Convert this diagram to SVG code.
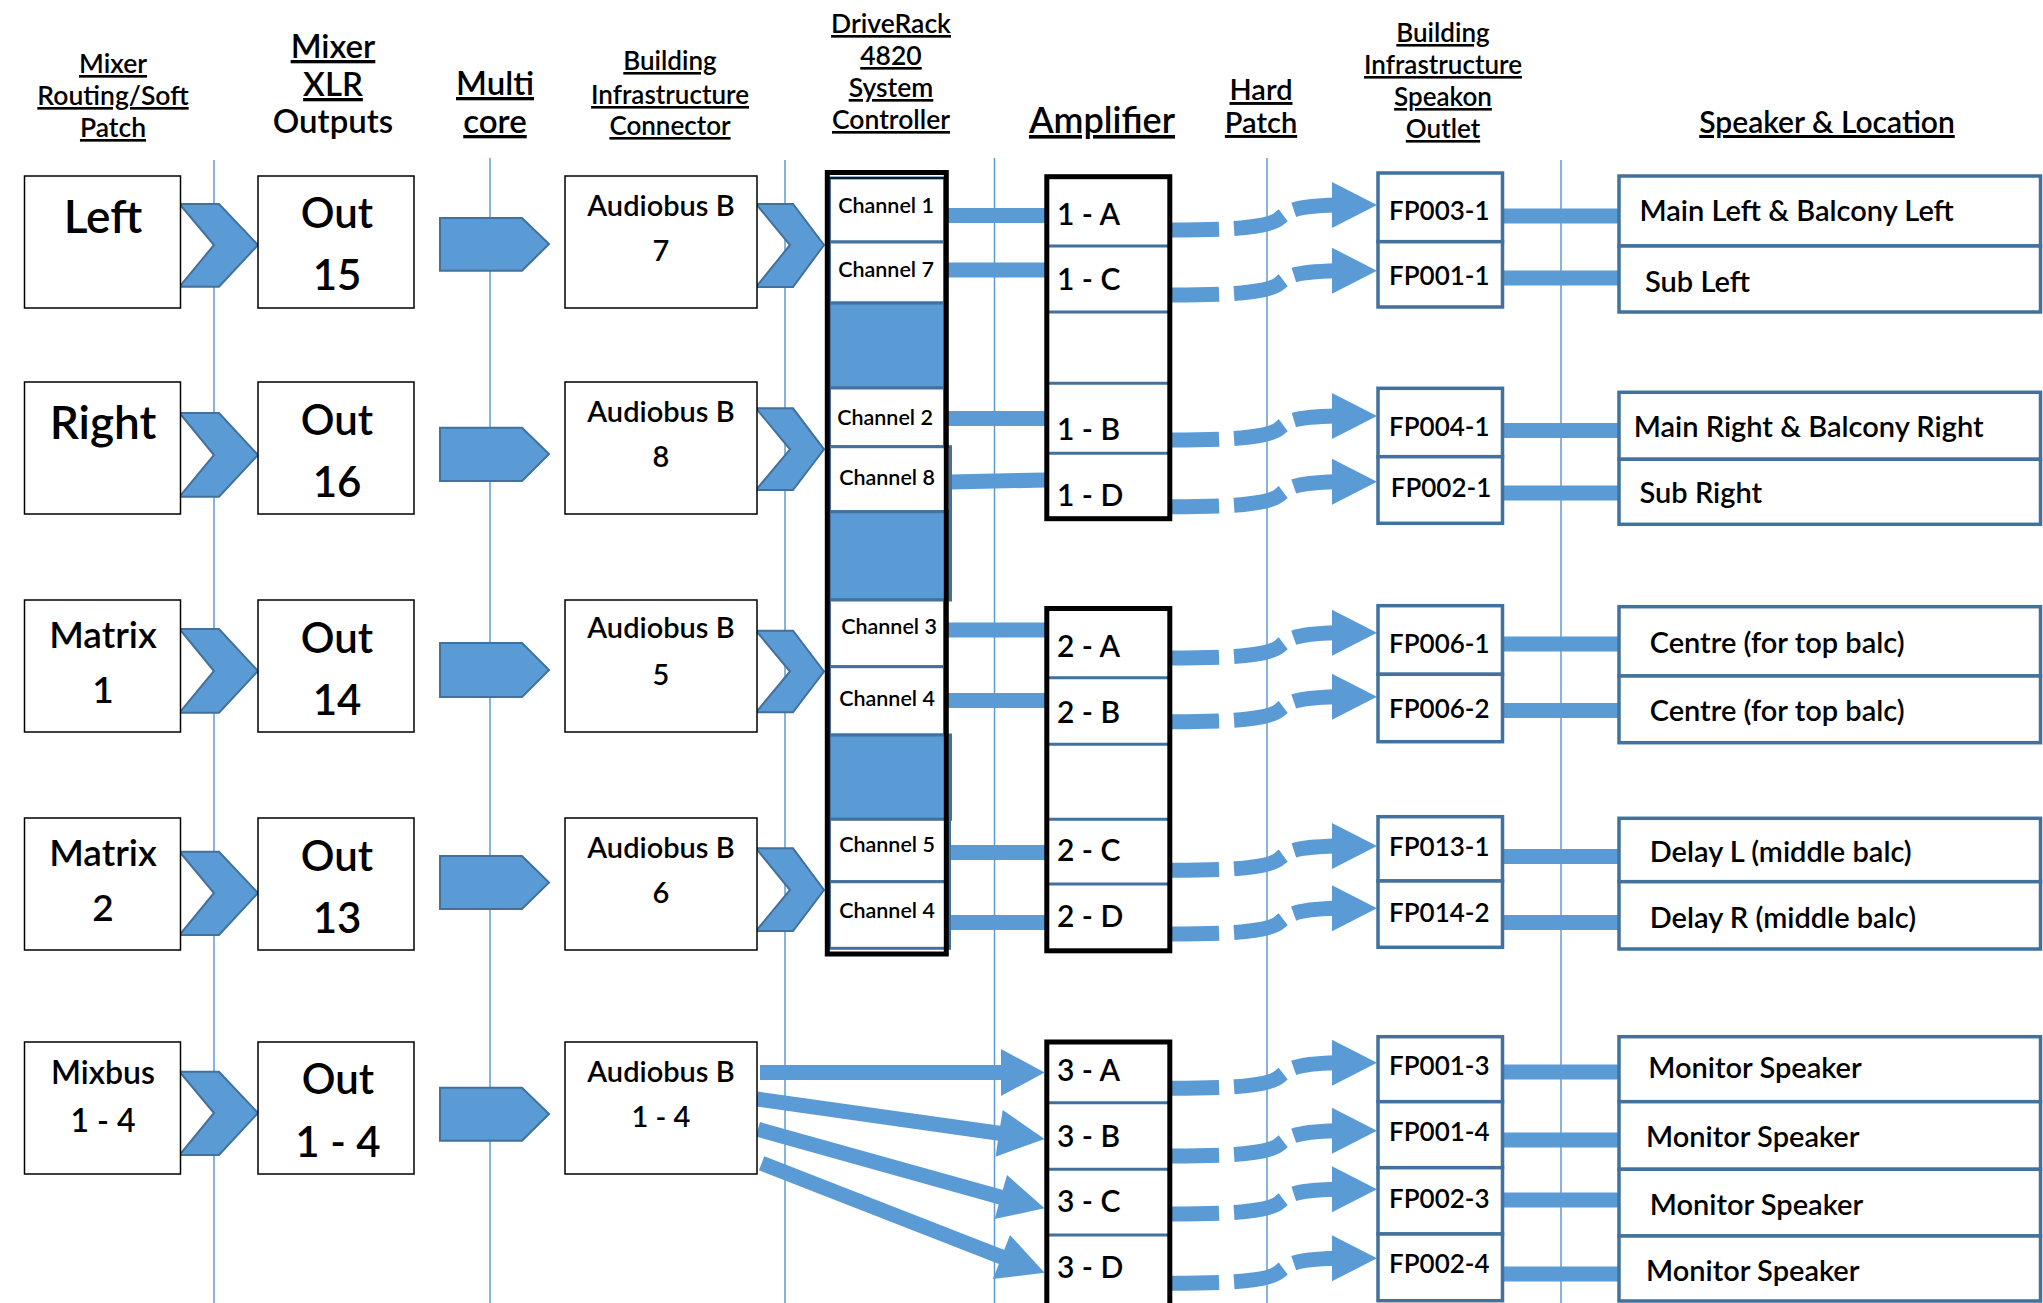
<svg xmlns="http://www.w3.org/2000/svg" width="2043" height="1303" viewBox="0 0 2043 1303">
<style>
text{font-family:Lato,"Liberation Sans",sans-serif;fill:#000;font-weight:600}
.h{text-anchor:middle;text-decoration:underline}
.hn{text-anchor:middle}
.c{text-anchor:middle}
.box{fill:#fff;stroke:#000;stroke-width:1.5}
.bbox{fill:#fff;stroke:#41719C;stroke-width:3.5}
.cell{fill:#fff;stroke:#41719C;stroke-width:3}
.bfill{fill:#5B9BD5;stroke:#41719C;stroke-width:3}
.frame{fill:none;stroke:#000;stroke-width:5}
.dv{stroke:#41719C;stroke-width:3}
.shape{fill:#5B9BD5;stroke:#41719C;stroke-width:2;stroke-linejoin:miter}
.bar{stroke:#5B9BD5;stroke-width:15;fill:none}
.dash{fill:none;stroke:#5B9BD5;stroke-width:15;stroke-dasharray:47 15 52 12}
.head{fill:#5B9BD5}
.vl{stroke:#5B9BD5;stroke-width:1.5}
</style>
<rect width="2043" height="1303" fill="#fff"/>
<g id="guides">
<line class="vl" x1="214" y1="160" x2="214" y2="1303"/>
<line class="vl" x1="490" y1="158" x2="490" y2="1303"/>
<line class="vl" x1="785" y1="160" x2="785" y2="1303"/>
<line class="vl" x1="994.5" y1="158" x2="994.5" y2="1303"/>
<line class="vl" x1="1267" y1="158" x2="1267" y2="1303"/>
<line class="vl" x1="1561" y1="160" x2="1561" y2="1303"/>
</g>
<g id="headers">
<text class="h" font-size="26.5" x="113" y="73">Mixer</text>
<text class="h" font-size="26.5" x="113" y="105">Routing/Soft</text>
<text class="h" font-size="26.5" x="113" y="137">Patch</text>
<text class="h" font-size="33" x="333" y="58">Mixer</text>
<text class="h" font-size="33" x="333" y="96">XLR</text>
<text class="hn" font-size="33" x="333" y="133">Outputs</text>
<text class="h" font-size="33" x="495" y="95">Multi</text>
<text class="h" font-size="33" x="495" y="133">core</text>
<text class="h" font-size="26" x="670" y="70">Building</text>
<text class="h" font-size="26" x="670" y="104">Infrastructure</text>
<text class="h" font-size="26" x="670" y="135">Connector</text>
<text class="h" font-size="26.5" x="891" y="33">DriveRack</text>
<text class="h" font-size="26.5" x="891" y="65">4820</text>
<text class="h" font-size="26.5" x="891" y="97">System</text>
<text class="h" font-size="26.5" x="891" y="129">Controller</text>
<text class="h" font-size="36" x="1102" y="133">Amplifier</text>
<text class="h" font-size="29" x="1261" y="100">Hard</text>
<text class="h" font-size="29" x="1261" y="133">Patch</text>
<text class="h" font-size="26" x="1443" y="42">Building</text>
<text class="h" font-size="26" x="1443" y="74">Infrastructure</text>
<text class="h" font-size="26" x="1443" y="106">Speakon</text>
<text class="h" font-size="26" x="1443" y="138">Outlet</text>
<text class="h" font-size="30" x="1827" y="133">Speaker &amp; Location</text>
</g>
<g id="connectors">
<polygon class="shape" points="179.5,204 219,204 258,245 219,286.7 179.5,286.7 214,245"/>
<polygon class="shape" points="179.5,413 219,413 258,455 219,496.7 179.5,496.7 214,455"/>
<polygon class="shape" points="179.5,629 219,629 258,671 219,712.7 179.5,712.7 214,671"/>
<polygon class="shape" points="179.5,851.7 219,851.7 258,893 219,935 179.5,935 214,893"/>
<polygon class="shape" points="179.5,1071.7 219,1071.7 258,1113 219,1155 179.5,1155 214,1113"/>
<polygon class="shape" points="440,218 522,218 549,244 522,270.7 440,270.7"/>
<polygon class="shape" points="440,427.7 522,427.7 549,454 522,481 440,481"/>
<polygon class="shape" points="440,643 522,643 549,670 522,697 440,697"/>
<polygon class="shape" points="440,856 522,856 549,882.5 522,909 440,909"/>
<polygon class="shape" points="440,1087.7 522,1087.7 549,1114 522,1140.7 440,1140.7"/>
<polygon class="shape" points="756,204 793,204 824,245 793,287 756,287 790,245"/>
<polygon class="shape" points="756,408.3 793,408.3 824,449.3 793,490 756,490 790,449.3"/>
<polygon class="shape" points="756,630.7 793,630.7 824,671.5 793,712.3 756,712.3 790,671.5"/>
<polygon class="shape" points="756,848.3 793,848.3 824,890 793,931 756,931 790,890"/>
<line class="bar" x1="946" y1="215.5" x2="1046" y2="215.5"/>
<line class="bar" x1="946" y1="270" x2="1046" y2="270"/>
<line class="bar" x1="946" y1="418.5" x2="1046" y2="418.5"/>
<line class="bar" x1="950" y1="482" x2="1046" y2="480"/>
<line class="bar" x1="946" y1="630" x2="1046" y2="630"/>
<line class="bar" x1="946" y1="700.5" x2="1046" y2="700.5"/>
<line class="bar" x1="946" y1="852.5" x2="1046" y2="852.5"/>
<line class="bar" x1="946" y1="922.5" x2="1046" y2="922.5"/>
<line class="bar" x1="760" y1="1072.5" x2="1003" y2="1072.5"/>
<polygon class="head" points="1001,1049 1044.6,1072.5 1001,1096"/>
<line class="bar" x1="757" y1="1099" x2="1001" y2="1133.5"/>
<polygon class="head" points="1002.7,1110 1044.6,1139 995.5,1156.7"/>
<line class="bar" x1="758" y1="1129.3" x2="1002" y2="1197.5"/>
<polygon class="head" points="1007,1175 1044.6,1208.3 994.6,1219"/>
<line class="bar" x1="761.6" y1="1163.3" x2="1003" y2="1257.5"/>
<polygon class="head" points="1010,1235 1044.6,1272.7 993,1279"/>
<path class="dash" d="M1172,230 C1240,230 1270,227 1280,218 C1290,209 1300,206 1336,205"/>
<polygon class="head" points="1332,182 1377,205 1332,228"/>
<path class="dash" d="M1172,295 C1240,295 1270,292 1280,283 C1290,274 1300,271.7 1336,270.7"/>
<polygon class="head" points="1332,247.7 1377,270.7 1332,293.7"/>
<path class="dash" d="M1172,440 C1240,440 1270,437 1280,428 C1290,419 1300,417 1336,416"/>
<polygon class="head" points="1332,393 1377,416 1332,439"/>
<path class="dash" d="M1172,506.7 C1240,506.7 1270,503.7 1280,494.7 C1290,485.7 1300,482.7 1336,481.7"/>
<polygon class="head" points="1332,458.7 1377,481.7 1332,504.7"/>
<path class="dash" d="M1172,658 C1240,658 1270,655 1280,646 C1290,637 1300,633.7 1336,632.7"/>
<polygon class="head" points="1332,609.7 1377,632.7 1332,655.7"/>
<path class="dash" d="M1172,721.7 C1240,721.7 1270,718.7 1280,709.7 C1290,700.7 1300,697.7 1336,696.7"/>
<polygon class="head" points="1332,673.7 1377,696.7 1332,719.7"/>
<path class="dash" d="M1172,870.3 C1240,870.3 1270,867.3 1280,858.3 C1290,849.3 1300,847 1336,846"/>
<polygon class="head" points="1332,823 1377,846 1332,869"/>
<path class="dash" d="M1172,934 C1240,934 1270,931 1280,922 C1290,913 1300,909.3 1336,908.3"/>
<polygon class="head" points="1332,885.3 1377,908.3 1332,931.3"/>
<path class="dash" d="M1172,1088.3 C1240,1088.3 1270,1085.3 1280,1076.3 C1290,1067.3 1300,1063.7 1336,1062.7"/>
<polygon class="head" points="1332,1039.7 1377,1062.7 1332,1085.7"/>
<path class="dash" d="M1172,1156 C1240,1156 1270,1153 1280,1144 C1290,1135 1300,1131.7 1336,1130.7"/>
<polygon class="head" points="1332,1107.7 1377,1130.7 1332,1153.7"/>
<path class="dash" d="M1172,1214 C1240,1214 1270,1211 1280,1202 C1290,1193 1300,1190.3 1336,1189.3"/>
<polygon class="head" points="1332,1166.3 1377,1189.3 1332,1212.3"/>
<path class="dash" d="M1172,1283.3 C1240,1283.3 1270,1280.3 1280,1271.3 C1290,1262.3 1300,1259.3 1336,1258.3"/>
<polygon class="head" points="1332,1235.3 1377,1258.3 1332,1281.3"/>
<line class="bar" x1="1502" y1="216" x2="1620" y2="216"/>
<line class="bar" x1="1502" y1="278" x2="1620" y2="278"/>
<line class="bar" x1="1502" y1="430.5" x2="1620" y2="430.5"/>
<line class="bar" x1="1502" y1="493" x2="1620" y2="493"/>
<line class="bar" x1="1502" y1="644" x2="1620" y2="644"/>
<line class="bar" x1="1502" y1="710.5" x2="1620" y2="710.5"/>
<line class="bar" x1="1502" y1="856.5" x2="1620" y2="856.5"/>
<line class="bar" x1="1502" y1="922.5" x2="1620" y2="922.5"/>
<line class="bar" x1="1502" y1="1072" x2="1620" y2="1072"/>
<line class="bar" x1="1502" y1="1140" x2="1620" y2="1140"/>
<line class="bar" x1="1502" y1="1200" x2="1620" y2="1200"/>
<line class="bar" x1="1502" y1="1274" x2="1620" y2="1274"/>
</g>
<g id="node-left"><rect class="box" x="24.5" y="176" width="156" height="132"/><text class="c" font-size="46" x="103" y="233">Left</text></g>
<g id="node-right"><rect class="box" x="24.5" y="382" width="156" height="132"/><text class="c" font-size="46" x="103" y="439">Right</text></g>
<g id="node-matrix1"><rect class="box" x="24.5" y="600" width="156" height="132"/><text class="c" font-size="37" x="103" y="648">Matrix</text><text class="c" font-size="37" x="103" y="703">1</text></g>
<g id="node-matrix2"><rect class="box" x="24.5" y="818" width="156" height="132"/><text class="c" font-size="37" x="103" y="866">Matrix</text><text class="c" font-size="37" x="103" y="921">2</text></g>
<g id="node-mixbus"><rect class="box" x="24.5" y="1042" width="156" height="132"/><text class="c" font-size="32" x="103" y="1084">Mixbus</text><text class="c" font-size="32" x="103" y="1132">1 - 4</text></g>
<g id="node-out15"><rect class="box" x="258" y="176" width="156" height="132"/><text class="c" font-size="42" x="337" y="228">Out</text><text class="c" font-size="42" x="337" y="290">15</text></g>
<g id="node-out16"><rect class="box" x="258" y="382" width="156" height="132"/><text class="c" font-size="42" x="337" y="435">Out</text><text class="c" font-size="42" x="337" y="497">16</text></g>
<g id="node-out14"><rect class="box" x="258" y="600" width="156" height="132"/><text class="c" font-size="42" x="337" y="653">Out</text><text class="c" font-size="42" x="337" y="715">14</text></g>
<g id="node-out13"><rect class="box" x="258" y="818" width="156" height="132"/><text class="c" font-size="42" x="337" y="871">Out</text><text class="c" font-size="42" x="337" y="933">13</text></g>
<g id="node-out1-4"><rect class="box" x="258" y="1042" width="156" height="132"/><text class="c" font-size="42" x="338" y="1094">Out</text><text class="c" font-size="42" x="338" y="1157">1 - 4</text></g>
<g id="node-ab7"><rect class="box" x="565" y="176" width="192" height="132"/><text class="c" font-size="29" x="661" y="216">Audiobus B</text><text class="c" font-size="29" x="661" y="261">7</text></g>
<g id="node-ab8"><rect class="box" x="565" y="382" width="192" height="132"/><text class="c" font-size="29" x="661" y="422">Audiobus B</text><text class="c" font-size="29" x="661" y="467">8</text></g>
<g id="node-ab5"><rect class="box" x="565" y="600" width="192" height="132"/><text class="c" font-size="29" x="661" y="638">Audiobus B</text><text class="c" font-size="29" x="661" y="685">5</text></g>
<g id="node-ab6"><rect class="box" x="565" y="818" width="192" height="132"/><text class="c" font-size="29" x="661" y="858">Audiobus B</text><text class="c" font-size="29" x="661" y="903">6</text></g>
<g id="node-ab1-4"><rect class="box" x="565" y="1042" width="192" height="132"/><text class="c" font-size="29" x="661" y="1082">Audiobus B</text><text class="c" font-size="29" x="661" y="1127">1 - 4</text></g>
<g id="node-driverack">
<rect class="cell" x="829.5" y="178" width="115" height="64"/>
<rect class="cell" x="829.5" y="242" width="115" height="61"/>
<rect class="bfill" x="829.5" y="303" width="115" height="85"/>
<rect class="cell" x="829.5" y="388" width="115" height="58.7"/>
<rect class="cell" x="829.5" y="446.7" width="121" height="65"/>
<rect class="bfill" x="829.5" y="511.7" width="121" height="88.3"/>
<rect class="cell" x="829.5" y="600" width="115" height="66.7"/>
<rect class="cell" x="829.5" y="666.7" width="115" height="68.3"/>
<rect class="bfill" x="829.5" y="735" width="121" height="84.3"/>
<rect class="cell" x="829.5" y="819.3" width="120" height="62.4"/>
<rect class="cell" x="829.5" y="881.7" width="120" height="66.6"/>
<line x1="829.5" y1="178" x2="944.5" y2="178" stroke="#000" stroke-width="1.5"/>
<rect class="frame" x="827.3" y="172.5" width="119" height="781.5"/>
<text class="c" font-size="21.5" x="886" y="213">Channel 1</text>
<text class="c" font-size="21.5" x="886" y="277">Channel 7</text>
<text class="c" font-size="21.5" x="885" y="425">Channel 2</text>
<text class="c" font-size="21.5" x="887" y="485">Channel 8</text>
<text class="c" font-size="21.5" x="889" y="634">Channel 3</text>
<text class="c" font-size="21.5" x="887" y="706">Channel 4</text>
<text class="c" font-size="21.5" x="887" y="852">Channel 5</text>
<text class="c" font-size="21.5" x="887" y="918">Channel 4</text>
</g>
<g id="node-amp1">
<rect x="1046.8" y="176.7" width="123" height="342" fill="#fff"/>
<line class="dv" x1="1049" y1="246" x2="1168" y2="246"/>
<line class="dv" x1="1049" y1="312" x2="1168" y2="312"/>
<line class="dv" x1="1049" y1="383.3" x2="1168" y2="383.3"/>
<line class="dv" x1="1049" y1="453.3" x2="1168" y2="453.3"/>
<rect class="frame" x="1046.8" y="176.7" width="123" height="342"/>
<text font-size="30" x="1057" y="225">1 - A</text>
<text font-size="30" x="1057" y="290">1 - C</text>
<text font-size="30" x="1057" y="440">1 - B</text>
<text font-size="30" x="1057" y="506">1 - D</text>
</g>
<g id="node-amp2">
<rect x="1046.8" y="608.5" width="123" height="342.3" fill="#fff"/>
<line class="dv" x1="1049" y1="677.7" x2="1168" y2="677.7"/>
<line class="dv" x1="1049" y1="744.3" x2="1168" y2="744.3"/>
<line class="dv" x1="1049" y1="819.3" x2="1168" y2="819.3"/>
<line class="dv" x1="1049" y1="884" x2="1168" y2="884"/>
<rect class="frame" x="1046.8" y="608.5" width="123" height="342.3"/>
<text font-size="30" x="1057" y="657.3">2 - A</text>
<text font-size="30" x="1057" y="723.3">2 - B</text>
<text font-size="30" x="1057" y="861">2 - C</text>
<text font-size="30" x="1057" y="926.7">2 - D</text>
</g>
<g id="node-amp3">
<rect x="1046.8" y="1042" width="123" height="280" fill="#fff"/>
<line class="dv" x1="1049" y1="1102.7" x2="1168" y2="1102.7"/>
<line class="dv" x1="1049" y1="1169.3" x2="1168" y2="1169.3"/>
<line class="dv" x1="1049" y1="1235" x2="1168" y2="1235"/>
<rect class="frame" x="1046.8" y="1042" width="123" height="280"/>
<text font-size="30" x="1057" y="1081">3 - A</text>
<text font-size="30" x="1057" y="1146.7">3 - B</text>
<text font-size="30" x="1057" y="1212">3 - C</text>
<text font-size="30" x="1057" y="1278.3">3 - D</text>
</g>
<g id="node-fp1">
<rect class="bbox" x="1378" y="173" width="124.5" height="68.7"/>
<rect class="bbox" x="1378" y="241.7" width="124.5" height="65.3"/>
<text font-size="26" x="1389" y="220">FP003-1</text>
<text font-size="26" x="1389" y="285">FP001-1</text>
</g>
<g id="node-fp2">
<rect class="bbox" x="1378" y="388.3" width="124.5" height="68.4"/>
<rect class="bbox" x="1378" y="456.7" width="124.5" height="66.6"/>
<text font-size="26" x="1389" y="436">FP004-1</text>
<text font-size="26" x="1390.7" y="497.3">FP002-1</text>
</g>
<g id="node-fp3">
<rect class="bbox" x="1378" y="605.7" width="124.5" height="68.6"/>
<rect class="bbox" x="1378" y="674.3" width="124.5" height="67.4"/>
<text font-size="26" x="1389" y="652.7">FP006-1</text>
<text font-size="26" x="1389" y="718.3">FP006-2</text>
</g>
<g id="node-fp4">
<rect class="bbox" x="1378" y="816.7" width="124.5" height="64.3"/>
<rect class="bbox" x="1378" y="881" width="124.5" height="66.3"/>
<text font-size="26" x="1389" y="856">FP013-1</text>
<text font-size="26" x="1389" y="921.7">FP014-2</text>
</g>
<g id="node-fp5">
<rect class="bbox" x="1378" y="1036.7" width="124.5" height="65"/>
<rect class="bbox" x="1378" y="1101.7" width="124.5" height="66"/>
<rect class="bbox" x="1378" y="1167.7" width="124.5" height="66.3"/>
<rect class="bbox" x="1378" y="1234" width="124.5" height="66.7"/>
<text font-size="26" x="1389" y="1075">FP001-3</text>
<text font-size="26" x="1389" y="1141">FP001-4</text>
<text font-size="26" x="1389" y="1207.7">FP002-3</text>
<text font-size="26" x="1389" y="1272.7">FP002-4</text>
</g>
<g id="node-spk1">
<rect class="bbox" x="1619" y="176" width="421.5" height="70"/>
<rect class="bbox" x="1619" y="246" width="421.5" height="66"/>
<text font-size="29" x="1639.5" y="220.7">Main Left &amp; Balcony Left</text>
<text font-size="29" x="1645" y="291.7">Sub Left</text>
</g>
<g id="node-spk2">
<rect class="bbox" x="1619" y="392.3" width="421.5" height="67"/>
<rect class="bbox" x="1619" y="459.3" width="421.5" height="65"/>
<text font-size="29" x="1633.7" y="437.3">Main Right &amp; Balcony Right</text>
<text font-size="29" x="1639.5" y="503.3">Sub Right</text>
</g>
<g id="node-spk3">
<rect class="bbox" x="1619" y="606.7" width="421.5" height="69.3"/>
<rect class="bbox" x="1619" y="676" width="421.5" height="66.7"/>
<text font-size="29" x="1649.7" y="653.3">Centre (for top balc)</text>
<text font-size="29" x="1649.7" y="720.7">Centre (for top balc)</text>
</g>
<g id="node-spk4">
<rect class="bbox" x="1619" y="818.3" width="421.5" height="63.4"/>
<rect class="bbox" x="1619" y="881.7" width="421.5" height="67.3"/>
<text font-size="29" x="1649.7" y="861.7">Delay L (middle balc)</text>
<text font-size="29" x="1649.7" y="927.7">Delay R (middle balc)</text>
</g>
<g id="node-spk5">
<rect class="bbox" x="1619" y="1036.7" width="421.5" height="65"/>
<rect class="bbox" x="1619" y="1101.7" width="421.5" height="67.6"/>
<rect class="bbox" x="1619" y="1169.3" width="421.5" height="66.7"/>
<rect class="bbox" x="1619" y="1236" width="421.5" height="65"/>
<text font-size="29" x="1648.3" y="1078.3">Monitor Speaker</text>
<text font-size="29" x="1646" y="1146.7">Monitor Speaker</text>
<text font-size="29" x="1649.7" y="1215">Monitor Speaker</text>
<text font-size="29" x="1646" y="1281">Monitor Speaker</text>
</g>
</svg>
